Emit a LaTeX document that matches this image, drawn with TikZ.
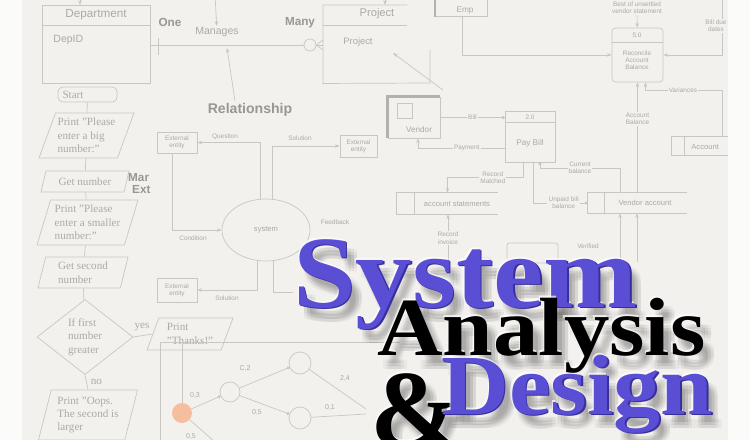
\documentclass[tikz,border=0pt]{standalone}
\usepackage{fontspec}
\setmainfont{Liberation Serif}
\newfontfamily\labfont{Liberation Sans}
\newfontfamily\titlefont[FakeStretch=1.1]{Liberation Serif}
\usepackage{tikz}
\usetikzlibrary{positioning,arrows.meta,shapes.geometric}
\definecolor{pbg}{HTML}{F3F1EE}
\definecolor{pside}{HTML}{FBFBFA}
\definecolor{fline}{HTML}{C9C7C4}
\definecolor{ftext}{HTML}{ACAAA7}
\definecolor{fbold}{HTML}{999795}
\definecolor{fthick}{HTML}{B3B1AE}
\definecolor{forange}{HTML}{F5BE9E}
\definecolor{tblue}{HTML}{5A4FD4}
\definecolor{tbluedk}{HTML}{392F9C}
\tikzset{
  fl/.style  = {draw=fline, line width=0.6pt},
  fa/.style  = {fl, -{Stealth[length=4pt,width=3pt]}},
  fd/.style  = {fl, -{Circle[length=2.6pt]}},
  ft/.style  = {font=\labfont\fontsize{5.5}{6.2}\selectfont, text=ftext,
                align=center, inner sep=1pt},
  ftb/.style = {ft, fill=pbg},
  fs/.style  = {ft, font=\labfont\fontsize{9}{10}\selectfont},
  fe/.style  = {fl, ft, minimum width=12mm, minimum height=6.3mm},
  fw/.style  = {font=\fontsize{9.5}{11.5}\selectfont, text=ftext, align=left},
  io/.style  = {fl, fw, trapezium, trapezium stretches body=true, inner sep=1pt},
  fb/.style  = {font=\labfont\bfseries\fontsize{10}{12}\selectfont, text=fbold,
                inner sep=0pt},
  nd/.style  = {fl, circle, fill=pbg, minimum size=6mm, inner sep=0pt},
  store/.style = {minimum height=6.3mm, inner sep=0pt},
  tw/.style  = {inner sep=0pt, anchor=base west},
  tsys/.style = {tw, font=\titlefont\bfseries\fontsize{87.5}{90}\selectfont},
  tana/.style = {tw, font=\titlefont\bfseries\fontsize{70.5}{72}\selectfont},
  tdes/.style = {tw, font=\titlefont\bfseries\fontsize{73}{75}\selectfont},
  tamp/.style = {tw, font=\bfseries\fontsize{93.5}{95}\selectfont},
}

\begin{document}
\begin{tikzpicture}[x=0.3mm, y=-0.3mm]
\useasboundingbox (0,0) rectangle (750,440);
\clip (0,0) rectangle (750,440);
\fill[pside] (0,0) rectangle (750,440);
\fill[pbg] (22,0) rectangle (728,440);

% ER sketch
\node[fl, minimum width=32.4mm, minimum height=23.4mm, anchor=north west] (dept) at (42,5) {};
\draw[fl] ([yshift=-6mm]dept.north west) -- ([yshift=-6mm]dept.north east);
\node[fs, font=\labfont\fontsize{10}{11}\selectfont] (deptname) at (96,15) {Department};
\node[fs, anchor=west] (deptid) at (52,40) {DepID};
\coordinate (deptin) at (80,-6);
\draw[fa] (deptin) -- (dept.north -| deptin);

\node[fb] (one) at (170,22) {One};
\node[fb] (many) at (300,23) {Many};
\node[nd, minimum size=3.6mm] (mcirc) at (310,45) {};
\draw[fl] (dept.east |- mcirc) -- (mcirc);
\draw[fl] (158,38) -- (158,55);
\node[fs] (manages) at (217,32) {Manages};
\coordinate (mgin) at (215,-6);
\draw[fa] (mgin) -- (manages);
\node[fb, font=\labfont\bfseries\fontsize{12}{14}\selectfont] (rel) at (250,110) {Relationship};
\coordinate (relfrom) at (235,101);
\coordinate (relto) at (227,48);
\draw[fa] (relfrom) -- (relto);

\node[anchor=north west, minimum width=25.2mm, minimum height=23.4mm, inner sep=0pt] (proj) at (323,5) {};
\draw[fl] (proj.north east) -- (proj.north west) -- (proj.south west) -- (430,83) -- (430,50);
\draw[fl] ([yshift=-6mm]proj.north west) -- ([yshift=-6mm]proj.north east);
\node[fs, font=\labfont\fontsize{9.5}{11}\selectfont] (projname) at (377,14) {Project};
\node[fs, font=\labfont\fontsize{8}{9}\selectfont] (projattr) at (358,42) {Project};
\foreach \y in {40,45,50} { \draw[fl] (mcirc.east) -- (323,\y); }
\coordinate (projin) at (385,-8);
\draw[fa] (projin) -- (proj.north -| projin);
\coordinate (diaga) at (443,90);
\coordinate (diagb) at (393,53);
\draw[fa] (diaga) -- (diagb);

% data flow sketch, right
\node[fl, minimum width=15.6mm, minimum height=8.1mm, anchor=south west, inner sep=0pt] (emp) at (435,17) {};
\draw[draw=fthick, line width=2.4pt] (emp.south west) -- (emp.north west);
\node[ft, font=\labfont\fontsize{7}{8}\selectfont] (empname) at (465,11) {Emp};

\node[fl, rounded corners=3pt, minimum width=15.3mm, minimum height=16.2mm, inner sep=0pt] (rec) at (637.5,55) {};
\draw[fl] ([yshift=-4.5mm]rec.north west) -- ([yshift=-4.5mm]rec.north east);
\node[ft] (recid) at (637,35) {5.0};
\node[ft] (recname) at (637,60) {Reconcile\\Account\\Balance};
\node[ft] (best) at (637,8) {Best of unsettled\\vendor statement};
\draw[fa] (best) -- (rec);
\coordinate (empout) at (462,17);
\draw[fa] (empout) |- (rec);
\coordinate (billtop) at (722,-5);
\draw[fa] (billtop) |- (rec);
\node[ftb] (duelab) at (716,26) {Bill due\\dates};

\node[fl, minimum width=15.6mm, minimum height=12.3mm, inner sep=0pt] (vendor) at (414,117.5) {};
\draw[draw=fthick, line width=2.4pt] (vendor.south west) -- (vendor.north west) -- (vendor.north east);
\node[fl, minimum size=4.5mm, inner sep=0pt] (vicon) at (404.5,110.5) {};
\node[ft, font=\labfont\fontsize{7}{8}\selectfont] (vname) at (419,130) {Vendor};

\node[fl, minimum width=15mm, minimum height=15.3mm, inner sep=0pt] (pay) at (530,136.5) {};
\draw[fl] ([yshift=-3.6mm]pay.north west) -- ([yshift=-3.6mm]pay.north east);
\node[ft] (payid) at (530,117) {2.0};
\node[ft, font=\labfont\fontsize{7}{8}\selectfont] (payname) at (530,143) {Pay Bill};
\draw[fd] (vendor.east) -- (vendor.east -| pay.west) node[ftb, midway] {Bill};
\coordinate (payout) at (505,148);
\draw[fa] (payout) -| ([xshift=1.2mm]vendor.south) node[ftb, pos=0.22] {Payment};

\node[store] (astore) [minimum width=30.3mm] at (447.5,203.5) {};
\draw[fl] (astore.north east) -- (astore.north west) -- (astore.south west) -- (astore.south east);
\draw[fl] ([xshift=5.4mm]astore.north west) -- ([xshift=5.4mm]astore.south west);
\node[ft, font=\labfont\fontsize{6.5}{7}\selectfont] (aname) at (457,204) {account statements};

\node[store] (vstore) [minimum width=29.7mm, minimum height=6mm] at (637.5,203) {};
\draw[fl] (vstore.north east) -- (vstore.north west) -- (vstore.south west) -- (vstore.south east);
\draw[fl] ([xshift=5.1mm]vstore.north west) -- ([xshift=5.1mm]vstore.south west);
\node[ft, font=\labfont\fontsize{6.5}{7}\selectfont] (vsname) at (645,203) {Vendor account};

\node[store] (acstore) [minimum width=18.9mm, minimum height=5.4mm] at (703.5,146) {};
\draw[fl] (acstore.north east) -- (acstore.north west) -- (acstore.south west) -- (acstore.south east);
\draw[fl] ([xshift=3.9mm]acstore.north west) -- ([xshift=3.9mm]acstore.south west);
\node[ft, font=\labfont\fontsize{6.5}{7}\selectfont, anchor=west] (acname) at (690,147) {Account};

\draw[fa] ([xshift=-2.1mm]pay.south) -- ++(0,15) -| (astore.north) node[ftb, pos=0.2] {Record\\Matched};
\draw[fd] ([xshift=0.9mm]pay.south) |- (vstore.west) node[ftb, pos=0.78] {Unpaid bill\\balance};
\draw[fd] ([xshift=-5.25mm]vstore.north) |- ([xshift=3mm,yshift=-1.8mm]pay.south) -- ([xshift=3mm]pay.south);
\node[ftb] (curlab) at (580,168) {Current\\balance};
\draw[fa] (vstore.north) -- (rec.south) node[ftb, pos=0.67] {Account\\Balance};
\draw[fa] ([xshift=5.55mm]acstore.north) |- ([xshift=2.4mm,yshift=-2.4mm]rec.south) -- ([xshift=2.4mm]rec.south);
\node[ftb] (varlab) at (683,90) {Variances};

\coordinate (ain) at (448,262);
\draw[fa] (ain) -- (ain |- astore.south) node[ftb, midway] {Record\\invoice};
\coordinate (vin1) at (620,262);
\coordinate (vin2) at (637,262);
\draw[fa] (vin1) -- (vin1 |- vstore.south);
\draw[fa] (vin2) -- (vin2 |- vstore.south);
\node[fl, rounded corners=2pt, minimum width=15.3mm, minimum height=6mm] (vbox) at (532.5,253) {};
\node[ft] (verlab) at (588,246) {Verified};

% context diagram
\node[fe] (ent1) at (177,142.5) {External\\entity};
\node[fe, minimum width=11.1mm, minimum height=6.6mm] (ent2) at (358.5,146) {External\\entity};
\node[fe, minimum height=7.2mm] (ent3) at (177,290) {External\\entity};
\node[fl, ellipse, ft, font=\labfont\fontsize{6.5}{7}\selectfont, minimum width=26.4mm, minimum height=18.6mm] (sys) at (266,230) {system};
\draw[fa] ([xshift=-1.8mm]sys.north) |- (ent1.east);
\draw[fa] ([xshift=1.8mm]sys.north) |- (ent2.west);
\draw[fa] ([xshift=-1.5mm]ent1.south) |- (sys.west);
\draw[fa] ([xshift=-2.7mm]sys.south) |- (ent3.east);
\draw[fl] ([xshift=2.1mm]sys.south) -- ++(0,31) -- ++(20,0);
\node[ft] (qlab) at (225,137) {Question};
\node[ft] (slab) at (300,138) {Solution};
\node[ft] (clab) at (193,238) {Condition};
\node[ft] (fblab) at (335,222) {Feedback};
\node[ft] (slabb) at (227,298) {Solution};

% flowchart
\node[fl, fw, rounded corners=4pt, minimum width=17.7mm, minimum height=4.5mm, text width=15mm, inner sep=1pt] (start) at (87.5,94.5) {Start};
\node[io, trapezium left angle=66, trapezium right angle=114, minimum width=28.5mm, minimum height=13.5mm] (p1) at (86.5,135.5) {Print "Please\\enter a big\\number:"};
\node[io, trapezium left angle=64, trapezium right angle=116, minimum width=26.4mm, minimum height=6.3mm] (p2) at (85,181.5) {Get number};
\node[io, trapezium left angle=70, trapezium right angle=110, minimum width=30.3mm, minimum height=13.5mm] (p3) at (87.5,222.5) {Print "Please\\enter a smaller\\number:"};
\node[io, trapezium left angle=72, trapezium right angle=108, minimum width=27mm, minimum height=9.3mm] (p4) at (83,272.5) {Get second\\number};
\node[fl, fw, diamond, aspect=1.28, minimum width=28.8mm, minimum height=22.5mm, inner sep=0pt] (dec) at (85,337) {If first\\number\\greater};
\node[io, trapezium left angle=63, trapezium right angle=117, minimum width=25.8mm, minimum height=9.6mm] (p5) at (190,334) {Print\\"Thanks!"};
\node[io, trapezium left angle=72, trapezium right angle=108, minimum width=29.7mm, minimum height=15mm] (p6) at (88,415) {Print "Oops.\\The second is\\larger};
\draw[fl] (start) -- (p1);
\draw[fl] (p1) -- (p2);
\draw[fl] (p2) -- (p3);
\draw[fl] (p3) -- (p4);
\draw[fl] (p4) -- (dec);
\draw[fl] (dec.east) -- (p5.west) node[fw, pos=0.45, above] {yes};
\draw[fl] (dec.south) -- (p6.north) node[fw, midway, right] {no};
\node[fb, anchor=west] (marlab) at (128,178) {Mar};
\node[fb, anchor=west] (extlab) at (132,190) {Ext};

% network sketch
\coordinate (fcorner) at (160,342);
\draw[fl] (160,440) -- (fcorner) -- (400,342);
\node[circle, fill=forange, minimum size=6mm, inner sep=0pt] (n0) at (182,413) {};
\coordinate (ftop) at (182,342);
\draw[fl] (ftop) -- (n0);
\node[nd] (n1) at (230,392) {};
\node[nd, minimum size=6.6mm] (n2) at (300,363) {};
\node[nd, minimum size=6.6mm] (n3) at (300,418) {};
\coordinate (nx1) at (366,409);
\coordinate (nx2) at (366,414);
\coordinate (nx3) at (215,442);
\draw[fd] (n0) -- (n1);
\draw[fd] (n1) -- (n2);
\draw[fd] (n1) -- (n3);
\draw[fl] (n2) -- (nx1);
\draw[fl] (n3) -- (nx2);
\draw[fl] (n0) -- (nx3);
\node[ft, font=\labfont\fontsize{6}{7}\selectfont] (w03) at (195,395) {0,3};
\node[ft, font=\labfont\fontsize{6}{7}\selectfont] (wc2) at (245,368) {C,2};
\node[ft, font=\labfont\fontsize{6}{7}\selectfont] (w05) at (257,412) {0,5};
\node[ft, font=\labfont\fontsize{6}{7}\selectfont] (w24) at (345,378) {2,4};
\node[ft, font=\labfont\fontsize{6}{7}\selectfont] (w01) at (330,407) {0,1};
\node[ft, font=\labfont\fontsize{6}{7}\selectfont] (w05b) at (191,436) {0,5};

\fill[pside] (728,0) rectangle (750,440);

% title, soft shadow first
\foreach \dx in {5,8,11} {
  \foreach \dy in {8,11,14} {
    \node[tsys, text=black, text opacity=0.035] (shsys\dx\dy) at (293+\dx,307+\dy) {System};
    \node[tamp, text=black, text opacity=0.035] (shamp\dx\dy) at (370+\dx,446+\dy) {\&};
    \node[tdes, text=black, text opacity=0.035] (shdes\dx\dy) at (441+\dx,414+\dy) {Design};
    \node[tana, text=black, text opacity=0.035] (shana\dx\dy) at (377+\dx,355+\dy) {Analysis};
  }
}
\node[tsys, text=white, text opacity=0.7] (syshi) at (291.8,305.8) {System};
\node[tsys, text=tbluedk] (sysdk) at (294.6,308.6) {System};
\node[tsys, text=tblue] (tsystem) at (293,307) {System};
\node[tamp, text=white, text opacity=0.7] (amphi) at (368.8,444.8) {\&};
\node[tamp, text=black] (tampers) at (370,446) {\&};
\node[tdes, text=white, text opacity=0.7] (deshi) at (439.8,412.8) {Design};
\node[tdes, text=tbluedk] (desdk) at (442.6,415.6) {Design};
\node[tdes, text=tblue] (tdesign) at (441,414) {Design};
\node[tana, text=white, text opacity=0.7] (anahi) at (375.8,353.8) {Analysis};
\node[tana, text=black] (tanalysis) at (377,355) {Analysis};

\end{tikzpicture}
\end{document}
